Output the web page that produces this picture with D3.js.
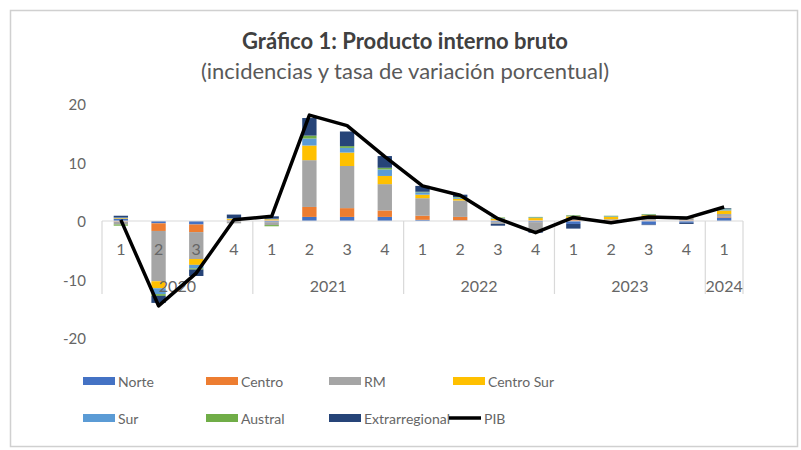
<!DOCTYPE html>
<html><head><meta charset="utf-8">
<script src="https://cdn.jsdelivr.net/npm/d3@7"></script>
<style>body{margin:0;background:#fff} svg text{font-family:Lato,"Open Sans",sans-serif}</style>
</head><body><svg id="c" width="801" height="450"></svg>
<script>
const quarters = ["1","2","3","4","1","2","3","4","1","2","3","4","1","2","3","4","1"];
const years = ["2020","2021","2022","2023","2024"];
const quartersPerYear = [4,4,4,4,1];
const seriesNames = ["Norte","Centro","RM","Centro Sur","Sur","Austral","Extrarregional"];
const norte   = [0.4,-0.4,-0.6,0.1,-0.2,0.7,0.7,0.7,0.2,0.1,-0.2,-0.2,-0.5,-0.2,-0.6,-0.3,0.6];
const centro  = [-0.1,-1.3,-1.3,0.1,0.1,1.7,1.5,1.1,0.7,0.6,0.1,0.1,0.2,0.1,0.1,0.1,0.1];
const rm      = [-0.5,-8.6,-4.6,-0.4,-0.5,8.0,7.2,4.5,3.0,2.8,-0.3,-1.5,0.2,0.2,0.6,0.4,0.5];
const centroSur = [0.1,-1.2,-1.0,0.2,0.2,2.5,2.3,1.4,0.6,0.3,0.3,0.4,0.4,0.4,0.3,0.1,0.6];
const sur     = [0.1,-1.0,-0.6,0.1,0.1,1.2,0.8,1.1,0.4,0.2,0.1,0.1,0.1,0.1,0.1,0.1,0.2];
const austral = [-0.2,-0.3,-0.2,0.0,-0.2,0.5,0.3,0.3,0.1,0.1,0.1,0.1,0.1,0.1,0.1,0.0,0.1];
const extrarregional = [0.3,-1.2,-1.1,0.6,0.4,3.0,2.5,2.0,1.0,0.4,-0.3,-0.3,-0.8,-0.1,-0.1,-0.2,0.1];
const pib = [0.2,-14.5,-8.9,0.2,0.8,18.1,16.3,11.0,6.0,4.4,0.4,-2.0,0.6,-0.3,0.7,0.5,2.4];
const yTicks = [20,10,0,-10,-20];
const colors = ["#4472C4","#ED7D31","#A5A5A5","#FFC000","#5B9BD5","#70AD47","#264478"];

const seriesValues = [norte,centro,rm,centroSur,sur,austral,extrarregional];
const rows = quarters.map((q,i)=>{const r={i};seriesNames.forEach((s,k)=>r[s]=seriesValues[k][i]);return r;});

const svg = d3.select("#c");
const textCol = "#666666";
// frame
svg.append("rect").attr("x",10.5).attr("y",10.5).attr("width",787).attr("height",436)
  .attr("fill","#fff").attr("stroke","#d0d0d0").attr("stroke-width",1.5);

// titles
svg.append("text").attr("x",405).attr("y",49).attr("text-anchor","middle")
  .attr("font-size",22).attr("font-weight","bold").attr("fill","#404040")
  .text("Gráfico 1: Producto interno bruto");
svg.append("text").attr("x",405).attr("y",79).attr("text-anchor","middle")
  .attr("font-size",22).attr("fill","#595959")
  .text("(incidencias y tasa de variación porcentual)");

const x = d3.scaleBand().domain(d3.range(quarters.length)).range([102,743])
  .paddingInner(0.62).paddingOuter(0.31);
const y = d3.scaleLinear().domain([-20,20]).range([338,104]);

// y labels
svg.append("g").selectAll("text").data(yTicks).join("text")
  .attr("x",86).attr("y",d=>y(d)).attr("text-anchor","end").attr("dominant-baseline","central")
  .attr("font-size",15).attr("fill",textCol).text(d=>d);

// stacked bars
const stack = d3.stack().keys(seriesNames).offset(d3.stackOffsetDiverging);
const stacked = stack(rows);
svg.append("g").selectAll("g").data(stacked).join("g").attr("fill",(d,k)=>colors[k])
  .selectAll("rect").data(d=>d).join("rect")
  .attr("x",d=>x(d.data.i)).attr("width",x.bandwidth())
  .attr("y",d=>y(Math.max(d[0],d[1]))).attr("height",d=>Math.abs(y(d[0])-y(d[1])));

// axis line and separators
const axisCol = "#d9d9d9";
svg.append("line").attr("x1",102).attr("x2",743).attr("y1",y(0)).attr("y2",y(0))
  .attr("stroke",axisCol).attr("stroke-width",1.2);
let bounds=[0]; quartersPerYear.reduce((a,b)=>{bounds.push(a+b);return a+b;},0);
const step = x.step();
const bx = i => 102 + i*step;
svg.append("g").selectAll("line").data(bounds).join("line")
  .attr("x1",d=>bx(d)).attr("x2",d=>bx(d)).attr("y1",y(0)).attr("y2",294)
  .attr("stroke",axisCol).attr("stroke-width",1.2);
svg.append("g").selectAll("text").data(quarters).join("text")
  .attr("x",(d,i)=>x(i)+x.bandwidth()/2).attr("y",248).attr("text-anchor","middle")
  .attr("dominant-baseline","central").attr("font-size",16).attr("fill",textCol).text(d=>d);
svg.append("g").selectAll("text").data(years).join("text")
  .attr("x",(d,k)=>(bx(bounds[k])+bx(bounds[k+1]))/2).attr("y",285).attr("text-anchor","middle")
  .attr("dominant-baseline","central").attr("font-size",16).attr("fill",textCol).text(d=>d);

// PIB line
svg.append("path").datum(pib).attr("fill","none").attr("stroke","#000").attr("stroke-width",3.5)
  .attr("stroke-linejoin","round")
  .attr("d",d3.line().x((d,i)=>x(i)+x.bandwidth()/2).y(d=>y(d)));

// legend
const legX = [83,206,329,453];
const legY = [381,418];
const legend = svg.append("g");
seriesNames.forEach((s,k)=>{
  const cx = legX[k%4], cy = legY[Math.floor(k/4)];
  legend.append("rect").attr("x",cx).attr("y",cy-4).attr("width",32).attr("height",8).attr("fill",colors[k]);
  legend.append("text").attr("x",cx+35).attr("y",cy).attr("dominant-baseline","central")
    .attr("font-size",14).attr("fill",textCol).text(s);
});
legend.append("line").attr("x1",449).attr("x2",481).attr("y1",418).attr("y2",418)
  .attr("stroke","#000").attr("stroke-width",3.5);
legend.append("text").attr("x",484).attr("y",418).attr("dominant-baseline","central")
  .attr("font-size",14).attr("fill",textCol).text("PIB");
</script></body></html>
